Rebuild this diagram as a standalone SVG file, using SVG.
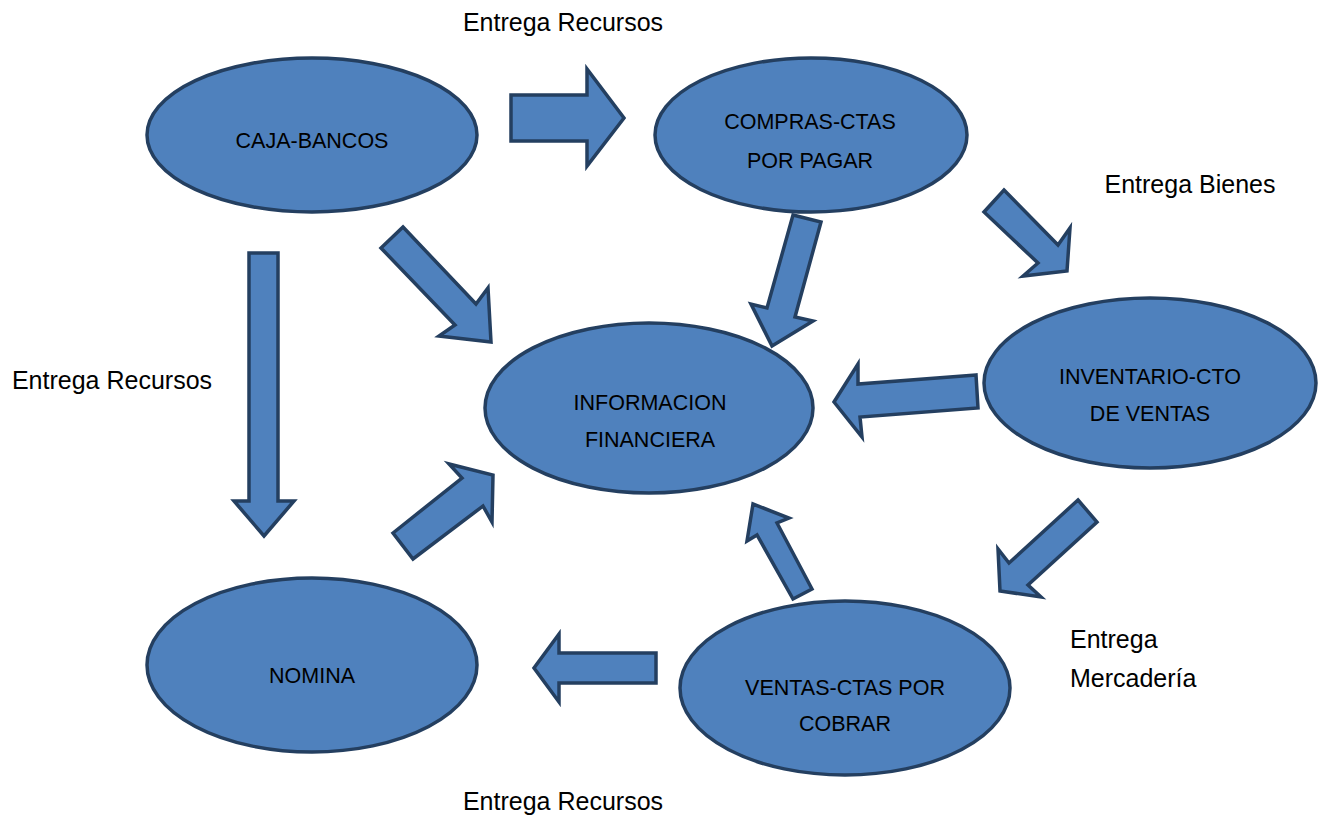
<svg xmlns="http://www.w3.org/2000/svg" width="1324" height="818" viewBox="0 0 1324 818">
<style>
.node{fill:#4f81bd;stroke:#243f60;stroke-width:3.5}
.arr{fill:#4f81bd;stroke:#243f60;stroke-width:3.5;stroke-linejoin:miter}
.nt{font-family:"Liberation Sans",Arial,sans-serif;font-size:21.5px;fill:#000;text-anchor:middle}
.lb{font-family:"Liberation Sans",Arial,sans-serif;font-size:25px;fill:#000}
</style>
<rect width="1324" height="818" fill="#fff"/>
<g id="connectors">
<polygon class="arr" points="511,95 587,95 587,69 624,118 587,166 587,141 511,141"/>
<polygon class="arr" points="403,227 476,304 488,288 491,342 439,336 455,325 381,248"/>
<polygon class="arr" points="793,215 821,222 795,317 813,321 772,346 751,304 767,308"/>
<polygon class="arr" points="1004,190 1058,245 1070,228 1067,271 1023,276 1038,263 984,212"/>
<polygon class="arr" points="976,375 858,384 858,364 834,402 862,437 860,417 978,408"/>
<polygon class="arr" points="1078,500 1097,522 1028,585 1041,597 1000,591 998,549 1009,563"/>
<polygon class="arr" points="812,589 777,523 789,518 753,504 747,541 757,535 793,599"/>
<polygon class="arr" points="249,253 278,253 278,501 294,501 264,536 234,501 249,501"/>
<polygon class="arr" points="393,533 462,478 449,464 493,475 492,522 483,506 413,559"/>
<polygon class="arr" points="656,653 559,653 559,634 534,668 559,702 559,683 656,683"/>
</g>
<g id="caja-bancos">
<ellipse class="node" cx="312" cy="135" rx="165" ry="77"/>
<text class="nt" x="312" y="148">CAJA-BANCOS</text>
</g>
<g id="compras">
<ellipse class="node" cx="811" cy="135" rx="156" ry="77"/>
<text class="nt" x="810" y="129">COMPRAS-CTAS</text>
<text class="nt" x="810" y="168">POR PAGAR</text>
</g>
<g id="informacion">
<ellipse class="node" cx="649" cy="408" rx="164" ry="85"/>
<text class="nt" x="650" y="410">INFORMACION</text>
<text class="nt" x="650" y="447">FINANCIERA</text>
</g>
<g id="inventario">
<ellipse class="node" cx="1150" cy="383" rx="166" ry="85"/>
<text class="nt" x="1150" y="384">INVENTARIO-CTO</text>
<text class="nt" x="1150" y="421">DE VENTAS</text>
</g>
<g id="nomina">
<ellipse class="node" cx="312" cy="665" rx="165" ry="87"/>
<text class="nt" x="312" y="683">NOMINA</text>
</g>
<g id="ventas">
<ellipse class="node" cx="845" cy="688" rx="165" ry="87"/>
<text class="nt" x="845" y="695">VENTAS-CTAS POR</text>
<text class="nt" x="845" y="731">COBRAR</text>
</g>
<g id="labels">
<text class="lb" x="563" y="31" text-anchor="middle">Entrega Recursos</text>
<text class="lb" x="1190" y="193" text-anchor="middle">Entrega Bienes</text>
<text class="lb" x="112" y="389" text-anchor="middle">Entrega Recursos</text>
<text class="lb" x="1070" y="648">Entrega</text>
<text class="lb" x="1070" y="687">Mercadería</text>
<text class="lb" x="563" y="810" text-anchor="middle">Entrega Recursos</text>
</g>
</svg>
